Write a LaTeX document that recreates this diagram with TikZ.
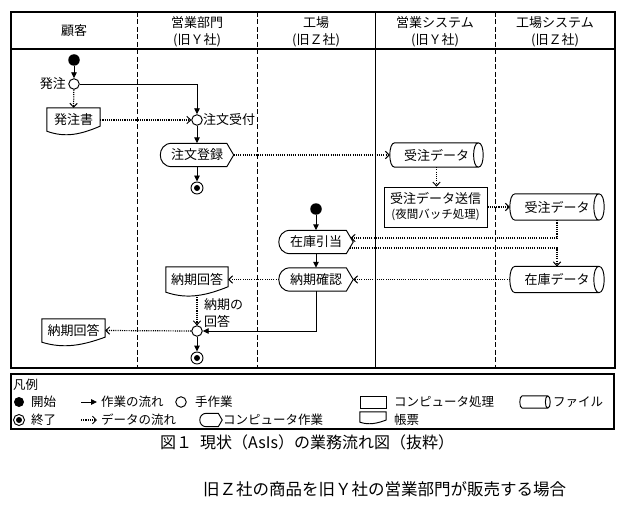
\documentclass[tikz,border=0pt]{standalone}
\usepackage{fontspec}
\setmainfont{Noto Sans CJK JP}
\usetikzlibrary{arrows.meta,calc}
\begin{document}
\begin{tikzpicture}[x=1pt,y=-1pt,
  every node/.style={font=\fontsize{13}{15}\selectfont, inner sep=0pt},
  legendtext/.style={anchor=west, font=\fontsize{12.5}{15}\selectfont},
  shapeline/.style={line width=0.95pt},
  frameline/.style={line width=1.25pt},
  lane/.style={line width=0.95pt, dash pattern=on 5pt off 2.5pt},
  flow/.style={line width=0.95pt, -{Triangle[length=6pt,width=5.5pt]}},
  dataflow/.style={line width=1.2pt, dash pattern=on 1.1pt off 1.1pt, -{Straight Barb[length=3.8pt,width=7.5pt,line width=1pt]}},
  act/.style={circle, draw, line width=0.95pt, minimum size=10.5pt},
  startn/.style={circle, fill, minimum size=11.5pt},
  endn/.style={circle, draw, line width=0.95pt, minimum size=12pt,
    path picture={\fill (path picture bounding box.center) circle (3pt);}},
  procbox/.style={draw, line width=0.95pt, minimum width=#1, align=center},
  cwork/.style 2 args={minimum width=#1pt, minimum height=#2pt,
    append after command={\pgfextra{
      \draw[shapeline]
        ($(\tikzlastnode.north west)+({#2/2},0)$) --
        ($(\tikzlastnode.north east)+({-0.3*#2},0)$) --
        (\tikzlastnode.east) --
        ($(\tikzlastnode.south east)+({-0.3*#2},0)$) --
        ($(\tikzlastnode.south west)+({#2/2},0)$) .. controls
        ($(\tikzlastnode.south west)+({-#2/6},0)$) and
        ($(\tikzlastnode.north west)+({-#2/6},0)$) ..
        ($(\tikzlastnode.north west)+({#2/2},0)$) -- cycle;
    }}},
  filen/.style 2 args={minimum width=#1pt, minimum height=#2pt,
    append after command={\pgfextra{
      \draw[shapeline]
        ($(\tikzlastnode.north west)+({#2/5},0)$) --
        ($(\tikzlastnode.north east)+({-#2/5},0)$) .. controls
        ($(\tikzlastnode.north east)+({#2/15},0)$) and
        ($(\tikzlastnode.south east)+({#2/15},0)$) ..
        ($(\tikzlastnode.south east)+({-#2/5},0)$) --
        ($(\tikzlastnode.south west)+({#2/5},0)$) .. controls
        ($(\tikzlastnode.south west)+({-#2/15},0)$) and
        ($(\tikzlastnode.north west)+({-#2/15},0)$) ..
        ($(\tikzlastnode.north west)+({#2/5},0)$) -- cycle
        ($(\tikzlastnode.north east)+({-#2/5},0)$) .. controls
        ($(\tikzlastnode.north east)+({-7*#2/15},0)$) and
        ($(\tikzlastnode.south east)+({-7*#2/15},0)$) ..
        ($(\tikzlastnode.south east)+({-#2/5},0)$);
    }}},
  docn/.style 2 args={minimum width=#1pt, minimum height=#2pt,
    append after command={\pgfextra{
      \draw[shapeline]
        (\tikzlastnode.south west) -- (\tikzlastnode.north west) --
        (\tikzlastnode.north east) --
        ($(\tikzlastnode.south east)+(0pt,{#2*0.22pt})$) .. controls
        ($(\tikzlastnode.south west)!0.65!(\tikzlastnode.south east)+(0pt,{-#2*0.13pt})$) and
        ($(\tikzlastnode.south west)!0.35!(\tikzlastnode.south east)+(0pt,{-#2*0.3pt})$) ..
        (\tikzlastnode.south west) -- cycle;
    }}}
]
\useasboundingbox (0,0) rectangle (634,505);

% ---------- frame and lanes ----------
\draw[frameline] (11,12) rectangle (615,368);
\draw[frameline] (11,49) -- (615,49);
\draw[lane] (137,12) -- (137,368);
\draw[lane] (257,12) -- (257,368);
\draw[shapeline] (375,12) -- (375,368);
\draw[lane] (495,12) -- (495,368);

% ---------- headers ----------
\node (hK) at (74,31) {顧客};
\node (hE1) at (197,23) {営業部門};
\node (hE2) at (197,40) {(旧Ｙ社)};
\node (hF1) at (316,23) {工場};
\node (hF2) at (316,40) {(旧Ｚ社)};
\node (hS1) at (435,23) {営業システム};
\node (hS2) at (435,40) {(旧Ｙ社)};
\node (hT1) at (555,23) {工場システム};
\node (hT2) at (555,40) {(旧Ｚ社)};

% ---------- nodes ----------
\node[startn] (s1) at (74,60) {};
\node[act] (hatchu) at (74,84) {};
\node[anchor=east] (lhatchu) at (66,84) {発注};
\node[docn={53}{23}] (hsho) at (73.5,119.5) {発注書};
\node[act] (uke) at (197,120) {};
\node[anchor=west] (luke) at (203,120) {注文受付};
\node[cwork={73}{23}] (toroku) at (197,155) {注文登録};
\node[endn] (e1) at (197,188) {};
\node[filen={93}{24}] (jd1) at (436.5,155) {受注データ};
\node[procbox=103pt, minimum height=40pt] (soshin) at (435.5,207)
  {受注データ送信\\{\fontsize{11.5}{13}\selectfont (夜間バッチ処理)}};
\node[filen={94}{26}] (jd2) at (557,207) {受注データ};
\node[startn] (s2) at (316,209) {};
\node[cwork={74}{23}] (zaiko) at (316,242) {在庫引当};
\node[cwork={74}{23}] (noki) at (316,279.5) {納期確認};
\node[filen={94}{26}] (zd) at (557,279.5) {在庫データ};
\node[docn={62}{25}] (nd1) at (197,279.5) {納期回答};
\node[act] (merge) at (197,331) {};
\node[anchor=west, align=left, font=\fontsize{13}{17}\selectfont] (lnoki) at (204,313.5) {納期の\\回答};
\node[docn={63}{23}] (nd2) at (73.5,330.5) {納期回答};
\node[endn] (e2) at (197,358) {};

\coordinate (zin) at ($(zaiko.east)+(-2.5pt,4pt)$);
\coordinate (zout) at ($(zaiko.east)+(-3.7pt,-6pt)$);

% ---------- connectors ----------
\draw[flow] (s1) -- (hatchu);
\draw[dataflow] (hatchu) -- (hsho.north);
\draw[flow] (hatchu.east) -| (uke.north);
\draw[dataflow] (hsho.east |- uke) -- (uke.west);
\draw[flow] (uke) -- (toroku.north);
\draw[flow] (toroku.south) -- (e1);
\draw[dataflow] (toroku.east) -- (jd1.west);
\draw[dataflow] (jd1.south) -- (jd1.south |- soshin.north);
\draw[dataflow] (soshin.east) -- (jd2.west);
\draw[flow] (s2) -- (zaiko.north);
\draw[flow] (zaiko.south) -- (noki.north);
\draw[dataflow] (jd2.south) |- (zin);
\draw[dataflow] (zout) -| (zd.north);
\draw[dataflow] (zd.west) -- (noki.east);
\draw[dataflow] (noki.west) -- (nd1.east);
\draw[flow] (noki.south) |- (merge.east);
\draw[dataflow] ($(nd1.south)+(0pt,-5pt)$) -- (merge.north);
\draw[dataflow] (merge.west) -- (nd2.east);
\draw[flow] (merge) -- (e2);

% ---------- legend ----------
\draw[frameline] (11,374) rectangle (614,429);
\node[legendtext] (lgt) at (13,385) {凡例};
\node[startn, minimum size=10pt] (lg1) at (19,402) {};
\node[legendtext] (lg1t) at (31,402) {開始};
\node[endn, minimum size=11pt] (lg2) at (19,420) {};
\node[legendtext] (lg2t) at (31,420) {終了};
\coordinate (lg3a) at (81,402);
\coordinate (lg3b) at (97,402);
\draw[flow] (lg3a) -- (lg3b);
\node[legendtext] (lg3t) at (101,402) {作業の流れ};
\coordinate (lg4a) at (81,420);
\coordinate (lg4b) at (97,420);
\draw[dataflow] (lg4a) -- (lg4b);
\node[legendtext] (lg4t) at (101,420) {データの流れ};
\node[act] (lg5) at (181,402) {};
\node[legendtext] (lg5t) at (195,402) {手作業};
\node[cwork={22}{13}] (lg6) at (211,420) {};
\node[legendtext] (lg6t) at (223,420) {コンピュータ作業};
\node[procbox=26pt, minimum height=12pt] (lg7) at (373,402) {};
\node[legendtext] (lg7t) at (394,402) {コンピュータ処理};
\node[docn={26}{10}] (lg8) at (373,417) {};
\node[legendtext] (lg8t) at (394,420) {帳票};
\node[filen={30}{12}] (lg9) at (535,402) {};
\node[legendtext] (lg9t) at (553,402) {ファイル};

% ---------- captions ----------
\node[anchor=west, font=\fontsize{16}{18}\selectfont] (cap) at (160,442)
  {図１\hspace{0.5em}現状（AsIs）の業務流れ図（抜粋）};
\node[anchor=west, font=\fontsize{16.5}{19}\selectfont] (sub) at (203,489)
  {旧Ｚ社の商品を旧Ｙ社の営業部門が販売する場合};
\end{tikzpicture}
\end{document}
